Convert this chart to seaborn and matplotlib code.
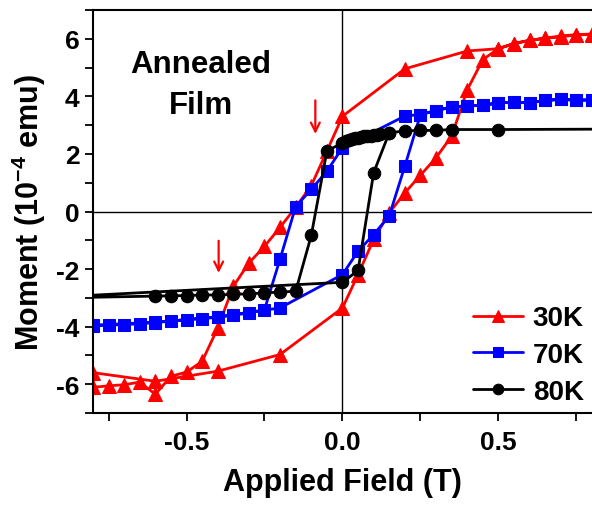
import numpy as np
import pandas as pd
import seaborn as sns
import matplotlib.pyplot as plt
from matplotlib.ticker import MultipleLocator

# =========================
# DATA (read off the figure, in measurement order)
# =========================
field_30k = [0.8, 0.75, 0.7, 0.65, 0.6, 0.55, 0.5, 0.4, 0.2, 0.0, -0.05, -0.1, -0.15,
             -0.2, -0.25, -0.3, -0.35, -0.4, -0.45, -0.5, -0.55, -0.6, -0.65, -0.7,
             -0.75, -0.8, -0.8, -0.6, -0.4, -0.2, 0.0, 0.05, 0.1, 0.15, 0.2, 0.25,
             0.3, 0.35, 0.4, 0.45, 0.5, 0.55, 0.6, 0.65, 0.7, 0.75, 0.8]
moment_30k = [6.15, 6.14, 6.07, 6.02, 5.95, 5.84, 5.66, 5.58, 4.96, 3.31, 2.1, 0.9, 0.15,
              -0.55, -1.21, -1.79, -2.6, -4.05, -5.21, -5.58, -5.73, -6.35, -5.93, -6.02,
              -6.06, -6.11, -5.6, -5.9, -5.55, -4.97, -3.35, -2.19, -0.97, -0.05, 0.65, 1.26,
              1.87, 2.62, 4.23, 5.28, 5.66, 5.84, 5.95, 6.03, 6.1, 6.15, 6.17]

field_70k = [0.8, 0.75, 0.7, 0.65, 0.6, 0.55, 0.5, 0.45, 0.4, 0.35, 0.3, 0.25, 0.2,
             0.0, -0.05, -0.1, -0.15, -0.2, -0.25, -0.3, -0.35, -0.4, -0.45, -0.5,
             -0.55, -0.6, -0.65, -0.7, -0.75, -0.8,
             -0.8, -0.6, -0.4, -0.2, 0.0, 0.05, 0.1, 0.15, 0.2, 0.25, 0.3, 0.35,
             0.4, 0.45, 0.5, 0.55, 0.6, 0.65, 0.7, 0.75, 0.8]
moment_70k = [3.88, 3.87, 3.9, 3.86, 3.78, 3.8, 3.78, 3.69, 3.67, 3.63, 3.51, 3.37, 3.32,
              2.22, 1.4, 0.77, 0.17, -1.65, -3.41, -3.53, -3.6, -3.68, -3.72, -3.76,
              -3.81, -3.86, -3.9, -3.93, -3.95, -3.97,
              -3.95, -3.85, -3.66, -3.35, -2.19, -1.38, -0.8, -0.15, 1.58, 3.37, 3.51, 3.63,
              3.67, 3.69, 3.78, 3.8, 3.78, 3.86, 3.9, 3.87, 3.88]

field_80k = [1.0, 0.5, 0.35, 0.3, 0.25, 0.2, 0.15, 0.12, 0.11, 0.1, 0.09, 0.08, 0.07,
             0.06, 0.05, 0.04, 0.03, 0.02, 0.01, 0.0, -0.05, -0.1, -0.15, -0.2, -0.25,
             -0.3, -0.35, -0.4, -0.45, -0.5, -0.55, -0.6, -1.0, 0.0, 0.05, 0.1, 0.15]
moment_80k = [2.87, 2.85, 2.85, 2.82, 2.82, 2.8, 2.74, 2.68, 2.67, 2.66, 2.64, 2.63, 2.61,
              2.59, 2.57, 2.55, 2.52, 2.49, 2.45, 2.39, 2.1, -0.83, -2.77, -2.8, -2.83,
              -2.86, -2.88, -2.9, -2.9, -2.92, -2.93, -2.94, -3.02, -2.46, -2.05, 1.35, 2.74]

series = [
    ("30K", field_30k, moment_30k, "#ff0000", "^", 10),
    ("70K", field_70k, moment_70k, "#0000ff", "s", 8),
    ("80K", field_80k, moment_80k, "#000000", "o", 9),
]

# =========================
# STYLE
# =========================
sns.set_style("ticks")
plt.rcParams['font.family'] = ['Liberation Sans', 'DejaVu Sans']
plt.rcParams['font.weight'] = 'bold'
plt.rcParams['axes.unicode_minus'] = False
plt.rcParams['mathtext.fontset'] = 'custom'
plt.rcParams['mathtext.rm'] = 'Liberation Sans:bold'
plt.rcParams['mathtext.bf'] = 'Liberation Sans:bold'
plt.rcParams['mathtext.default'] = 'bf'
for key in ['text.color', 'axes.labelcolor', 'xtick.color', 'ytick.color', 'axes.edgecolor']:
    plt.rcParams[key] = 'black'

fig = plt.figure(figsize=(5.92, 5.06), dpi=100)
ax = fig.add_axes([0.157, 0.182, 0.843, 0.796])

ax.axhline(0, color='black', lw=1.0, zorder=1)
ax.axvline(0, color='black', lw=1.0, zorder=1)

for name, xs, ys, col, mk, ms in series:
    df = pd.DataFrame({'field': xs, 'moment': ys})
    sns.lineplot(data=df, x='field', y='moment', sort=False, estimator=None,
                 color=col, marker=mk, markersize=ms, markeredgecolor=col,
                 lw=2.0, label=name, ax=ax)

# arrows
arrow_kw = dict(arrowstyle='->', color='red', lw=1.6, mutation_scale=16)
ax.annotate('', xy=(-0.087, 2.6), xytext=(-0.087, 3.96), arrowprops=arrow_kw)
ax.annotate('', xy=(-0.397, -2.23), xytext=(-0.397, -0.92), arrowprops=arrow_kw)

ax.text(-0.455, 4.42, "Annealed\nFilm", ha='center', va='center',
        fontsize=22.5, fontweight='bold', linespacing=1.45)

ax.set_xlim(-0.8, 0.8)
ax.set_ylim(-7, 7)
ax.xaxis.set_major_locator(MultipleLocator(0.5))
ax.xaxis.set_minor_locator(MultipleLocator(0.25))
ax.yaxis.set_major_locator(MultipleLocator(2))
ax.yaxis.set_minor_locator(MultipleLocator(1))
ax.xaxis.set_major_formatter(plt.FormatStrFormatter('%.1f'))
ax.tick_params(which='both', direction='out', length=6, width=1.3, labelsize=19)
ax.tick_params(axis='x', pad=6)
ax.spines['right'].set_visible(False)
for s in ['left', 'bottom', 'top']:
    ax.spines[s].set_linewidth(1.5)

ax.set_xlabel("Applied Field (T)", fontsize=22, fontweight='bold', labelpad=10)
ax.set_ylabel(r"Moment (10$^{-4}$ emu)", fontsize=22, fontweight='bold', labelpad=6)

leg = ax.legend(loc='lower right', bbox_to_anchor=(1.0, 0.0), frameon=False,
                borderaxespad=0.1, borderpad=0.2,
                fontsize=20, handlelength=1.8, handletextpad=0.35,
                labelspacing=0.38, markerscale=0.85)

plt.savefig("out.png", dpi=100)
